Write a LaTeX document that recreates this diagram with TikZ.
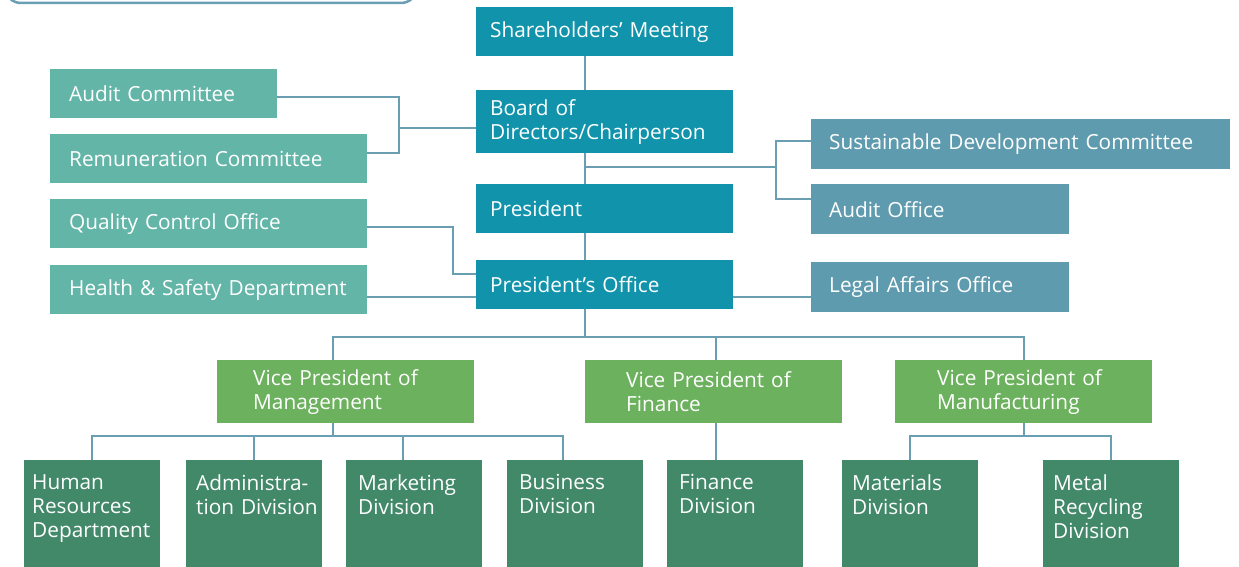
\documentclass[tikz,border=0pt]{standalone}
\usepackage{fontspec}
\setmainfont{Open Sans}
\definecolor{chiefteal}{HTML}{1194AB}
\definecolor{cmteal}{HTML}{63B5A8}
\definecolor{officeblue}{HTML}{5F9BAE}
\definecolor{vpgreen}{HTML}{6CB15D}
\definecolor{divgreen}{HTML}{42896A}
\definecolor{linkblue}{HTML}{6A9EB3}

\begin{document}
\begin{tikzpicture}[x=1pt, y=-1pt,
		box/.style={anchor=north west, inner ysep=0pt, align=left, text=white,
			font=\fontsize{20.8}{24}\selectfont},
		chief/.style={box, fill=chiefteal, inner xsep=14pt, text width=229pt, minimum height=49pt},
		committee/.style={box, fill=cmteal, inner xsep=19pt, minimum height=49pt},
		office/.style={box, fill=officeblue, inner xsep=18pt, minimum height=50pt},
		vp/.style={box, fill=vpgreen, inner xsep=36pt, text width=185pt, minimum height=63pt},
		division/.style={box, fill=divgreen, inner xsep=10pt, inner ysep=14pt, text width=116pt, text depth=110pt},
		link/.style={draw=linkblue, line width=2pt}]
		\useasboundingbox (0,0) rectangle (1239,567);
		\clip (0,0) rectangle (1239,567);
		\draw[linkblue, line width=2.5pt, rounded corners=16pt] (5,-40) rectangle (417,3);

		\node[chief] (share) at (476,7) {Shareholders' Meeting};
		\node[chief, minimum height=63pt] (board) at (476,90) {Board of\\Directors/Chairperson};
		\node[chief] (pres) at (476,184) {President};
		\node[chief] (poff) at (476,260) {President's Office};

		\node[committee, text width=189pt] (audit) at (50,69) {Audit Committee};
		\node[committee, text width=279pt] (remun) at (50,134) {Remuneration Committee};
		\node[committee, text width=279pt] (quality) at (50,199) {Quality Control Office};
		\node[committee, text width=279pt] (safety) at (50,265) {Health \& Safety Department};

		\node[office, text width=383pt] (sdc) at (811,119) {Sustainable Development Committee};
		\node[office, text width=222pt] (auditoff) at (811,184) {Audit Office};
		\node[office, text width=222pt] (legal) at (811,262) {Legal Affairs Office};

		\node[vp] (vpman) at (217,360) {Vice President of\\Management};
		\node[vp, inner xsep=41pt, text width=175pt] (vpfin) at (585,360) {Vice President of\\Finance};
		\node[vp, inner xsep=42pt, text width=173pt] (vpmfg) at (895,360) {Vice President of\\Manufacturing};

		\node[division, inner xsep=8pt, text width=120pt] (hr) at (24,460) {Human\\Resources\\Department};
		\node[division] (admin) at (186,460) {Administra-\\\mbox{tion Division}};
		\node[division, inner xsep=12pt, text width=112pt] (marketing) at (346,460) {Marketing\\Division};
		\node[division, inner xsep=12pt, text width=112pt] (business) at (507,460) {Business\\Division};
		\node[division, inner xsep=12pt, text width=112pt] (findiv) at (667,460) {Finance\\Division};
		\node[division] (materials) at (842,460) {Materials\\Division};
		\node[division] (metal) at (1043,460) {Metal\\Recycling\\Division};

		\coordinate (spine) at (585,0);
		\draw[link] (share.south -| spine) -- (board.north -| spine);
		\draw[link] (board.south -| spine) -- (pres.north -| spine);
		\draw[link] (pres.south -| spine) -- (poff.north -| spine);
		\draw[link] (poff.south -| spine) -- ++(0,28) coordinate (vpbus);

		\draw[link] ([yshift=-3.5pt]audit.east) -- ++(122,0) coordinate (lbus) |- ([yshift=5.5pt]remun.east);
		\draw[link] ([yshift=-6.5pt]board.west) -- ([yshift=-6.5pt]board.west -| lbus);
		\draw[link] ([yshift=-3.5pt]quality.east) -- ++(86,0) |- ([yshift=10.5pt]poff.west);
		\draw[link] ([yshift=-7.5pt]safety.east) -- ([yshift=-7.5pt]safety.east -| poff.west);

		\coordinate (rbus) at (776,167);
		\draw[link] (rbus -| spine) -- (rbus);
		\draw[link] ([yshift=3.5pt]sdc.west) -| (rbus) |- ([yshift=10pt]auditoff.west);
		\draw[link] ([yshift=-12.5pt]poff.east) -- ([yshift=-12.5pt]poff.east -| legal.west);

		\draw[link] ([xshift=-12.5pt]vpman.north) |- (vpbus) -| (vpmfg.north);
		\draw[link] ([xshift=2.5pt]vpfin.north) -- ([xshift=2.5pt]vpfin.north |- vpbus);

		\draw[link] ([xshift=-12.5pt]vpman.south) -- ++(0,13) coordinate (mbus);
		\draw[link] (hr.north) |- (mbus) -| ([xshift=-12pt]business.north);
		\draw[link] (admin.north) -- (admin.north |- mbus);
		\draw[link] ([xshift=-11pt]marketing.north) -- ([xshift=-11pt]marketing.north |- mbus);
		\draw[link] ([xshift=2.5pt]vpfin.south) -- ([xshift=2.5pt]vpfin.south |- findiv.north);
		\draw[link] (vpmfg.south) -- ++(0,13) coordinate (fbus);
		\draw[link] (materials.north) |- (fbus) -| (metal.north);
\end{tikzpicture}
\end{document}
